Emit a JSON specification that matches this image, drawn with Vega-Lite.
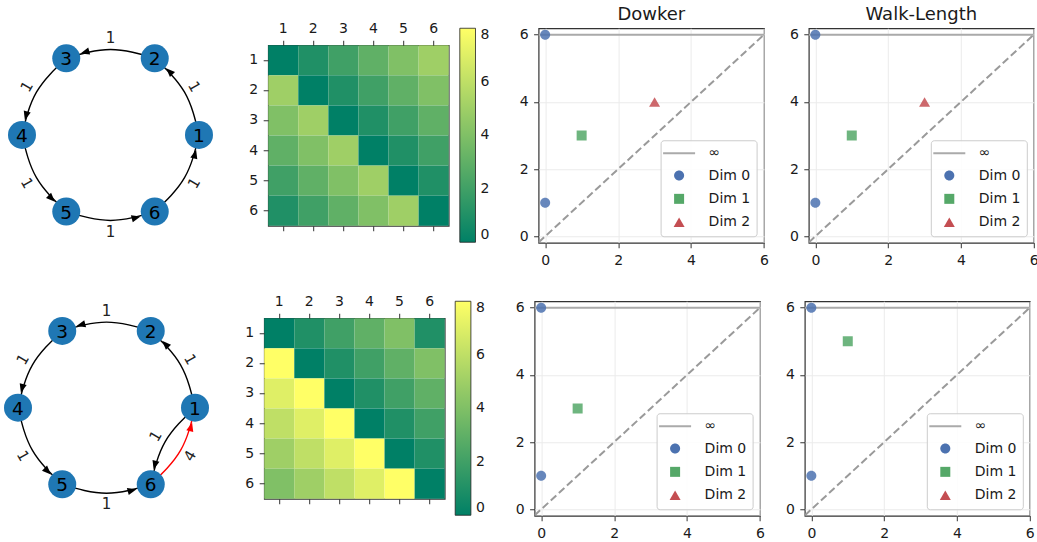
{
"$schema": "https://vega.github.io/schema/vega-lite/v6.json",
"padding": {"left": 0, "top": 4, "right": 0, "bottom": 0},
"background": "white",
"config": {
 "view": {"stroke": "#333333", "strokeWidth": 1.2},
 "font": "DejaVu Sans",
 "axis": {"labelFont": "DejaVu Sans", "labelColor": "#1a1a1a", "tickColor": "#333333", "tickWidth": 1},
 "legend": {"labelFont": "DejaVu Sans"},
 "title": {"font": "DejaVu Sans", "fontSize": 18, "fontWeight": "normal", "color": "#1a1a1a"},
 "text": {"font": "DejaVu Sans"}
},
"datasets": {
 "nodes": [{"id":"1","x":1,"y":0},{"id":"2","x":0.5,"y":0.866},{"id":"3","x":-0.5,"y":0.866},{"id":"4","x":-1,"y":0},{"id":"5","x":-0.5,"y":-0.866},{"id":"6","x":0.5,"y":-0.866}],
 "e1": [
  {"e":"12","k":0,"x":1,"y":0,"kind":"n"},{"e":"12","k":1,"x":0.8366,"y":0.483,"kind":"n"},{"e":"12","k":2,"x":0.5,"y":0.866,"kind":"n"},
  {"e":"23","k":0,"x":0.5,"y":0.866,"kind":"n"},{"e":"23","k":1,"x":0,"y":0.966,"kind":"n"},{"e":"23","k":2,"x":-0.5,"y":0.866,"kind":"n"},
  {"e":"34","k":0,"x":-0.5,"y":0.866,"kind":"n"},{"e":"34","k":1,"x":-0.8366,"y":0.483,"kind":"n"},{"e":"34","k":2,"x":-1,"y":0,"kind":"n"},
  {"e":"45","k":0,"x":-1,"y":0,"kind":"n"},{"e":"45","k":1,"x":-0.8366,"y":-0.483,"kind":"n"},{"e":"45","k":2,"x":-0.5,"y":-0.866,"kind":"n"},
  {"e":"56","k":0,"x":-0.5,"y":-0.866,"kind":"n"},{"e":"56","k":1,"x":0,"y":-0.966,"kind":"n"},{"e":"56","k":2,"x":0.5,"y":-0.866,"kind":"n"},
  {"e":"61","k":0,"x":0.5,"y":-0.866,"kind":"n"},{"e":"61","k":1,"x":0.8366,"y":-0.483,"kind":"n"},{"e":"61","k":2,"x":1,"y":0,"kind":"n"}
 ],
 "e2": [
  {"e":"12","k":0,"x":1,"y":0,"kind":"n"},{"e":"12","k":1,"x":0.8366,"y":0.483,"kind":"n"},{"e":"12","k":2,"x":0.5,"y":0.866,"kind":"n"},
  {"e":"23","k":0,"x":0.5,"y":0.866,"kind":"n"},{"e":"23","k":1,"x":0,"y":0.966,"kind":"n"},{"e":"23","k":2,"x":-0.5,"y":0.866,"kind":"n"},
  {"e":"34","k":0,"x":-0.5,"y":0.866,"kind":"n"},{"e":"34","k":1,"x":-0.8366,"y":0.483,"kind":"n"},{"e":"34","k":2,"x":-1,"y":0,"kind":"n"},
  {"e":"45","k":0,"x":-1,"y":0,"kind":"n"},{"e":"45","k":1,"x":-0.8366,"y":-0.483,"kind":"n"},{"e":"45","k":2,"x":-0.5,"y":-0.866,"kind":"n"},
  {"e":"56","k":0,"x":-0.5,"y":-0.866,"kind":"n"},{"e":"56","k":1,"x":0,"y":-0.966,"kind":"n"},{"e":"56","k":2,"x":0.5,"y":-0.866,"kind":"n"},
  {"e":"61","k":0,"x":0.5,"y":-0.866,"kind":"r"},{"e":"61","k":1,"x":0.8366,"y":-0.483,"kind":"r"},{"e":"61","k":2,"x":1,"y":0,"kind":"r"},
  {"e":"16","k":0,"x":1,"y":0,"kind":"n"},{"e":"16","k":1,"x":0.6634,"y":-0.383,"kind":"n"},{"e":"16","k":2,"x":0.5,"y":-0.866,"kind":"n"}
 ],
 "a1": [
  {"x":0.6281,"y":0.7542,"a":-45.1,"kind":"n"},{"x":-0.3391,"y":0.921,"a":-105.1,"kind":"n"},{"x":-0.9672,"y":0.1668,"a":-165.1,"kind":"n"},
  {"x":-0.6281,"y":-0.7542,"a":134.9,"kind":"n"},{"x":0.3391,"y":-0.921,"a":74.9,"kind":"n"},{"x":0.9672,"y":-0.1668,"a":14.9,"kind":"n"}
 ],
 "a2": [
  {"x":0.6281,"y":0.7542,"a":-45.1,"kind":"n"},{"x":-0.3391,"y":0.921,"a":-105.1,"kind":"n"},{"x":-0.9672,"y":0.1668,"a":-165.1,"kind":"n"},
  {"x":-0.6281,"y":-0.7542,"a":134.9,"kind":"n"},{"x":0.3391,"y":-0.921,"a":74.9,"kind":"n"},{"x":0.9672,"y":-0.1668,"a":14.9,"kind":"r"},
  {"x":0.5328,"y":-0.6992,"a":-165.1,"kind":"n"}
 ],
 "l1": [
  {"x":0.9449,"y":0.5455,"a":60,"t":"1"},{"x":0,"y":1.091,"a":0,"t":"1"},{"x":-0.9449,"y":0.5455,"a":-60,"t":"1"},
  {"x":-0.9449,"y":-0.5455,"a":60,"t":"1"},{"x":0,"y":-1.091,"a":0,"t":"1"},{"x":0.9449,"y":-0.5455,"a":-60,"t":"1"}
 ],
 "l2": [
  {"x":0.9449,"y":0.5455,"a":60,"t":"1"},{"x":0,"y":1.091,"a":0,"t":"1"},{"x":-0.9449,"y":0.5455,"a":-60,"t":"1"},
  {"x":-0.9449,"y":-0.5455,"a":60,"t":"1"},{"x":0,"y":-1.091,"a":0,"t":"1"},{"x":0.9449,"y":-0.5455,"a":-60,"t":"4"},
  {"x":0.5551,"y":-0.3205,"a":-60,"t":"1"}
 ],
 "h1": [
  {"r":1,"c":1,"v":0},{"r":1,"c":2,"v":1},{"r":1,"c":3,"v":2},{"r":1,"c":4,"v":3},{"r":1,"c":5,"v":4},{"r":1,"c":6,"v":5},
  {"r":2,"c":1,"v":5},{"r":2,"c":2,"v":0},{"r":2,"c":3,"v":1},{"r":2,"c":4,"v":2},{"r":2,"c":5,"v":3},{"r":2,"c":6,"v":4},
  {"r":3,"c":1,"v":4},{"r":3,"c":2,"v":5},{"r":3,"c":3,"v":0},{"r":3,"c":4,"v":1},{"r":3,"c":5,"v":2},{"r":3,"c":6,"v":3},
  {"r":4,"c":1,"v":3},{"r":4,"c":2,"v":4},{"r":4,"c":3,"v":5},{"r":4,"c":4,"v":0},{"r":4,"c":5,"v":1},{"r":4,"c":6,"v":2},
  {"r":5,"c":1,"v":2},{"r":5,"c":2,"v":3},{"r":5,"c":3,"v":4},{"r":5,"c":4,"v":5},{"r":5,"c":5,"v":0},{"r":5,"c":6,"v":1},
  {"r":6,"c":1,"v":1},{"r":6,"c":2,"v":2},{"r":6,"c":3,"v":3},{"r":6,"c":4,"v":4},{"r":6,"c":5,"v":5},{"r":6,"c":6,"v":0}
 ],
 "h2": [
  {"r":1,"c":1,"v":0},{"r":1,"c":2,"v":1},{"r":1,"c":3,"v":2},{"r":1,"c":4,"v":3},{"r":1,"c":5,"v":4},{"r":1,"c":6,"v":1},
  {"r":2,"c":1,"v":8},{"r":2,"c":2,"v":0},{"r":2,"c":3,"v":1},{"r":2,"c":4,"v":2},{"r":2,"c":5,"v":3},{"r":2,"c":6,"v":4},
  {"r":3,"c":1,"v":7},{"r":3,"c":2,"v":8},{"r":3,"c":3,"v":0},{"r":3,"c":4,"v":1},{"r":3,"c":5,"v":2},{"r":3,"c":6,"v":3},
  {"r":4,"c":1,"v":6},{"r":4,"c":2,"v":7},{"r":4,"c":3,"v":8},{"r":4,"c":4,"v":0},{"r":4,"c":5,"v":1},{"r":4,"c":6,"v":2},
  {"r":5,"c":1,"v":5},{"r":5,"c":2,"v":6},{"r":5,"c":3,"v":7},{"r":5,"c":4,"v":8},{"r":5,"c":5,"v":0},{"r":5,"c":6,"v":1},
  {"r":6,"c":1,"v":4},{"r":6,"c":2,"v":5},{"r":6,"c":3,"v":6},{"r":6,"c":4,"v":7},{"r":6,"c":5,"v":8},{"r":6,"c":6,"v":0}
 ],
 "diag": [{"x":-0.18,"y":-0.18},{"x":6,"y":6}],
 "inf": [{"y":6}],
 "blank": [{"z":0}],
 "p1": [{"dim":"Dim 0","x":0,"y":1},{"dim":"Dim 0","x":0,"y":6},{"dim":"Dim 1","x":1,"y":3},{"dim":"Dim 2","x":3,"y":4}],
 "p2": [{"dim":"Dim 0","x":0,"y":1},{"dim":"Dim 0","x":0,"y":6},{"dim":"Dim 1","x":1,"y":3},{"dim":"Dim 2","x":3,"y":4}],
 "p3": [{"dim":"Dim 0","x":0,"y":1},{"dim":"Dim 0","x":0,"y":6},{"dim":"Dim 1","x":1,"y":3}],
 "p4": [{"dim":"Dim 0","x":0,"y":1},{"dim":"Dim 0","x":0,"y":6},{"dim":"Dim 1","x":1,"y":5}]
},
"spacing": 24,
"resolve": {"scale": {"color": "independent", "shape": "independent", "x": "independent", "y": "independent"}, "legend": {"color": "independent", "shape": "independent"}},
"vconcat": [
 {
  "spacing": 44.2, "center": true, "bounds": "flush",
  "resolve": {"scale": {"color": "independent", "shape": "independent", "x": "independent", "y": "independent"}, "legend": {"color": "independent", "shape": "independent"}},
  "hconcat": [
   {
    "width": 224, "height": 214.5, "view": {"stroke": null},
    "encoding": {
     "x": {"field": "x", "type": "quantitative", "scale": {"domain": [-1.2486, 1.2825], "nice": false, "zero": false}, "axis": null},
     "y": {"field": "y", "type": "quantitative", "scale": {"domain": [-1.2181, 1.2056], "nice": false, "zero": false}, "axis": null}
    },
    "layer": [
     {"data": {"name": "e1"}, "mark": {"type": "line", "interpolate": "natural", "strokeWidth": 1.4},
      "encoding": {"detail": {"field": "e"}, "order": {"field": "k", "type": "quantitative"}, "color": {"field": "kind", "type": "nominal", "scale": {"domain": ["n", "r"], "range": ["#000000", "#ff0000"]}, "legend": null}}},
     {"data": {"name": "a1"}, "mark": {"type": "point", "filled": true, "opacity": 1, "shape": "M0,0L-0.8,2L0.8,2Z", "size": 81},
      "encoding": {"angle": {"field": "a", "type": "quantitative", "scale": null}, "color": {"field": "kind", "type": "nominal", "scale": {"domain": ["n", "r"], "range": ["#000000", "#ff0000"]}, "legend": null}}},
     {"data": {"name": "nodes"}, "mark": {"type": "circle", "size": 784, "color": "#1f77b4", "opacity": 1}},
     {"data": {"name": "nodes"}, "mark": {"type": "text", "fontSize": 18.5, "color": "#000000", "baseline": "middle", "align": "center", "dy": 1}, "encoding": {"text": {"field": "id"}}},
     {"data": {"name": "l1"}, "mark": {"type": "text", "fontSize": 15, "color": "#222222", "baseline": "middle", "align": "center"}, "encoding": {"text": {"field": "t"}, "angle": {"field": "a", "type": "quantitative", "scale": null}}}
    ]
   },
   {
    "width": 180.5, "height": 180.5, "data": {"name": "h1"},
    "resolve": {"axis": {"x": "independent"}},
    "layer": [
     {"mark": {"type": "rect"},
      "encoding": {
       "x": {"field": "c", "type": "ordinal", "scale": {"paddingInner": 0, "paddingOuter": 0}, "axis": {"orient": "top", "title": null, "labelAngle": 0, "domain": false, "tickSize": 5, "labelPadding": 5, "labelFontSize": 14}},
       "y": {"field": "r", "type": "ordinal", "scale": {"paddingInner": 0, "paddingOuter": 0}, "axis": {"title": null, "domain": false, "tickSize": 5, "labelPadding": 5.5, "labelFontSize": 14}},
       "color": {"field": "v", "type": "quantitative", "scale": {"domain": [0, 8], "range": ["#008066", "#ffff66"], "interpolate": "rgb"},
        "legend": {"title": null, "orient": "none", "legendX": 191.6, "legendY": -17, "direction": "vertical", "gradientLength": 214, "gradientThickness": 15.7, "values": [0, 2, 4, 6, 8], "labelFontSize": 14, "labelOffset": 5, "padding": 0, "gradientStrokeColor": "#222222", "gradientStrokeWidth": 0.8, "labelBaseline": "middle", "labelOverlap": false, "labelColor": "#1a1a1a"}}
      }},
     {"mark": {"type": "rect", "opacity": 0},
      "encoding": {
       "x": {"field": "c", "type": "ordinal", "axis": {"orient": "bottom", "title": null, "labels": false, "domain": false, "tickSize": 5}},
       "y": {"field": "r", "type": "ordinal", "axis": {"title": null, "domain": false, "tickSize": 5, "labelPadding": 5.5, "labelFontSize": 14}}
      }}
    ]
   },
   {"width": 0.6, "height": 214.5, "view": {"stroke": null}, "data": {"name": "blank"}, "mark": {"type": "point", "opacity": 0}},
   {
    "width": 225.4, "height": 214.5,
    "title": {"text": "Dowker", "offset": -9.9, "baseline": "alphabetic"},
    "layer": [
     {"data": {"name": "diag"}, "mark": {"type": "line", "color": "#9a9a9a", "strokeWidth": 2, "strokeDash": [7.5, 3.5], "clip": true},
      "encoding": {
       "x": {"field": "x", "type": "quantitative", "scale": {"domain": [-0.18, 6], "nice": false, "zero": false}, "axis": {"title": null, "values": [0, 2, 4, 6], "grid": true, "gridColor": "#ebebeb", "domain": false, "tickSize": 5, "labelPadding": 6, "labelFlush": false, "labelFontSize": 14}},
       "y": {"field": "y", "type": "quantitative", "scale": {"domain": [-0.19, 6.19], "nice": false, "zero": false}, "axis": {"title": null, "values": [0, 2, 4, 6], "grid": true, "gridColor": "#ebebeb", "domain": false, "tickSize": 5, "labelPadding": 5.5, "labelFlush": false, "labelFontSize": 14}}
      }},
     {"data": {"name": "inf"}, "mark": {"type": "rule", "color": "#aaaaaa", "strokeWidth": 2},
      "encoding": {
       "y": {"field": "y", "type": "quantitative", "scale": {"domain": [-0.19, 6.19], "nice": false, "zero": false}, "axis": {"title": null, "values": [0, 2, 4, 6], "grid": true, "gridColor": "#ebebeb", "domain": false, "tickSize": 5, "labelPadding": 5.5, "labelFlush": false, "labelFontSize": 14}}
      }},
     {"data": {"name": "p1"}, "mark": {"type": "point", "filled": true, "opacity": 0.85, "size": 100},
      "encoding": {
       "x": {"field": "x", "type": "quantitative", "scale": {"domain": [-0.18, 6], "nice": false, "zero": false}, "axis": {"title": null, "values": [0, 2, 4, 6], "grid": true, "gridColor": "#ebebeb", "domain": false, "tickSize": 5, "labelPadding": 6, "labelFlush": false, "labelFontSize": 14}},
       "y": {"field": "y", "type": "quantitative", "scale": {"domain": [-0.19, 6.19], "nice": false, "zero": false}, "axis": {"title": null, "values": [0, 2, 4, 6], "grid": true, "gridColor": "#ebebeb", "domain": false, "tickSize": 5, "labelPadding": 5.5, "labelFlush": false, "labelFontSize": 14}},
       "color": {"field": "dim", "type": "nominal", "scale": {"domain": ["∞", "Dim 0", "Dim 1", "Dim 2"], "range": ["#aaaaaa", "#4c72b0", "#55a868", "#c44e52"]},
        "legend": {"title": null, "orient": "bottom-right", "columns": 1, "offset": 7, "padding": 6, "fillColor": "rgba(255,255,255,0.85)", "strokeColor": "#cccccc", "cornerRadius": 3, "labelFontSize": 14, "labelColor": "#1a1a1a", "labelOffset": 22.5, "symbolOffset": 5.5, "rowPadding": 7.3, "symbolSize": 100, "symbolOpacity": 1}},
       "shape": {"field": "dim", "type": "nominal", "scale": {"domain": ["∞", "Dim 0", "Dim 1", "Dim 2"], "range": ["M-3.2,-0.18H3.2V0.18H-3.2Z", "M-3.2,0M3.2,0M1,0A1,1,0,1,1,-1,0A1,1,0,1,1,1,0Z", "M-3.2,0M3.2,0M-1,-1H1V1H-1Z", "M-3.2,0M3.2,0M0,-0.95L1.1,0.95L-1.1,0.95Z"]},
        "legend": {"title": null, "orient": "bottom-right", "columns": 1, "offset": 7, "padding": 6, "fillColor": "rgba(255,255,255,0.85)", "strokeColor": "#cccccc", "cornerRadius": 3, "labelFontSize": 14, "labelColor": "#1a1a1a", "labelOffset": 22.5, "symbolOffset": 5.5, "rowPadding": 7.3, "symbolSize": 100, "symbolOpacity": 1}}
      }}
    ]
   },
   {
    "width": 225, "height": 214.5,
    "title": {"text": "Walk-Length", "offset": -9.9, "baseline": "alphabetic"},
    "layer": [
     {"data": {"name": "diag"}, "mark": {"type": "line", "color": "#9a9a9a", "strokeWidth": 2, "strokeDash": [7.5, 3.5], "clip": true},
      "encoding": {
       "x": {"field": "x", "type": "quantitative", "scale": {"domain": [-0.18, 6], "nice": false, "zero": false}, "axis": {"title": null, "values": [0, 2, 4, 6], "grid": true, "gridColor": "#ebebeb", "domain": false, "tickSize": 5, "labelPadding": 6, "labelFlush": false, "labelFontSize": 14}},
       "y": {"field": "y", "type": "quantitative", "scale": {"domain": [-0.19, 6.19], "nice": false, "zero": false}, "axis": {"title": null, "values": [0, 2, 4, 6], "grid": true, "gridColor": "#ebebeb", "domain": false, "tickSize": 5, "labelPadding": 5.5, "labelFlush": false, "labelFontSize": 14}}
      }},
     {"data": {"name": "inf"}, "mark": {"type": "rule", "color": "#aaaaaa", "strokeWidth": 2},
      "encoding": {
       "y": {"field": "y", "type": "quantitative", "scale": {"domain": [-0.19, 6.19], "nice": false, "zero": false}, "axis": {"title": null, "values": [0, 2, 4, 6], "grid": true, "gridColor": "#ebebeb", "domain": false, "tickSize": 5, "labelPadding": 5.5, "labelFlush": false, "labelFontSize": 14}}
      }},
     {"data": {"name": "p2"}, "mark": {"type": "point", "filled": true, "opacity": 0.85, "size": 100},
      "encoding": {
       "x": {"field": "x", "type": "quantitative", "scale": {"domain": [-0.18, 6], "nice": false, "zero": false}, "axis": {"title": null, "values": [0, 2, 4, 6], "grid": true, "gridColor": "#ebebeb", "domain": false, "tickSize": 5, "labelPadding": 6, "labelFlush": false, "labelFontSize": 14}},
       "y": {"field": "y", "type": "quantitative", "scale": {"domain": [-0.19, 6.19], "nice": false, "zero": false}, "axis": {"title": null, "values": [0, 2, 4, 6], "grid": true, "gridColor": "#ebebeb", "domain": false, "tickSize": 5, "labelPadding": 5.5, "labelFlush": false, "labelFontSize": 14}},
       "color": {"field": "dim", "type": "nominal", "scale": {"domain": ["∞", "Dim 0", "Dim 1", "Dim 2"], "range": ["#aaaaaa", "#4c72b0", "#55a868", "#c44e52"]},
        "legend": {"title": null, "orient": "bottom-right", "columns": 1, "offset": 7, "padding": 6, "fillColor": "rgba(255,255,255,0.85)", "strokeColor": "#cccccc", "cornerRadius": 3, "labelFontSize": 14, "labelColor": "#1a1a1a", "labelOffset": 22.5, "symbolOffset": 5.5, "rowPadding": 7.3, "symbolSize": 100, "symbolOpacity": 1}},
       "shape": {"field": "dim", "type": "nominal", "scale": {"domain": ["∞", "Dim 0", "Dim 1", "Dim 2"], "range": ["M-3.2,-0.18H3.2V0.18H-3.2Z", "M-3.2,0M3.2,0M1,0A1,1,0,1,1,-1,0A1,1,0,1,1,1,0Z", "M-3.2,0M3.2,0M-1,-1H1V1H-1Z", "M-3.2,0M3.2,0M0,-0.95L1.1,0.95L-1.1,0.95Z"]},
        "legend": {"title": null, "orient": "bottom-right", "columns": 1, "offset": 7, "padding": 6, "fillColor": "rgba(255,255,255,0.85)", "strokeColor": "#cccccc", "cornerRadius": 3, "labelFontSize": 14, "labelColor": "#1a1a1a", "labelOffset": 22.5, "symbolOffset": 5.5, "rowPadding": 7.3, "symbolSize": 100, "symbolOpacity": 1}}
      }}
    ]
   }
  ]
 },
 {
  "spacing": 44.2, "center": true, "bounds": "flush",
  "resolve": {"scale": {"color": "independent", "shape": "independent", "x": "independent", "y": "independent"}, "legend": {"color": "independent", "shape": "independent"}},
  "hconcat": [
   {
    "width": 219.6, "height": 214.5, "view": {"stroke": null},
    "encoding": {
     "x": {"field": "x", "type": "quantitative", "scale": {"domain": [-1.2034, 1.278], "nice": false, "zero": false}, "axis": null},
     "y": {"field": "y", "type": "quantitative", "scale": {"domain": [-1.2203, 1.2011], "nice": false, "zero": false}, "axis": null}
    },
    "layer": [
     {"data": {"name": "e2"}, "mark": {"type": "line", "interpolate": "natural", "strokeWidth": 1.4},
      "encoding": {"detail": {"field": "e"}, "order": {"field": "k", "type": "quantitative"}, "color": {"field": "kind", "type": "nominal", "scale": {"domain": ["n", "r"], "range": ["#000000", "#ff0000"]}, "legend": null}}},
     {"data": {"name": "a2"}, "mark": {"type": "point", "filled": true, "opacity": 1, "shape": "M0,0L-0.8,2L0.8,2Z", "size": 81},
      "encoding": {"angle": {"field": "a", "type": "quantitative", "scale": null}, "color": {"field": "kind", "type": "nominal", "scale": {"domain": ["n", "r"], "range": ["#000000", "#ff0000"]}, "legend": null}}},
     {"data": {"name": "nodes"}, "mark": {"type": "circle", "size": 784, "color": "#1f77b4", "opacity": 1}},
     {"data": {"name": "nodes"}, "mark": {"type": "text", "fontSize": 18.5, "color": "#000000", "baseline": "middle", "align": "center", "dy": 1}, "encoding": {"text": {"field": "id"}}},
     {"data": {"name": "l2"}, "mark": {"type": "text", "fontSize": 15, "color": "#222222", "baseline": "middle", "align": "center"}, "encoding": {"text": {"field": "t"}, "angle": {"field": "a", "type": "quantitative", "scale": null}}}
    ]
   },
   {
    "width": 180.5, "height": 180.5, "data": {"name": "h2"},
    "resolve": {"axis": {"x": "independent"}},
    "layer": [
     {"mark": {"type": "rect"},
      "encoding": {
       "x": {"field": "c", "type": "ordinal", "scale": {"paddingInner": 0, "paddingOuter": 0}, "axis": {"orient": "top", "title": null, "labelAngle": 0, "domain": false, "tickSize": 5, "labelPadding": 5, "labelFontSize": 14}},
       "y": {"field": "r", "type": "ordinal", "scale": {"paddingInner": 0, "paddingOuter": 0}, "axis": {"title": null, "domain": false, "tickSize": 5, "labelPadding": 5.5, "labelFontSize": 14}},
       "color": {"field": "v", "type": "quantitative", "scale": {"domain": [0, 8], "range": ["#008066", "#ffff66"], "interpolate": "rgb"},
        "legend": {"title": null, "orient": "none", "legendX": 191, "legendY": -17, "direction": "vertical", "gradientLength": 214, "gradientThickness": 15.7, "values": [0, 2, 4, 6, 8], "labelFontSize": 14, "labelOffset": 5, "padding": 0, "gradientStrokeColor": "#222222", "gradientStrokeWidth": 0.8, "labelBaseline": "middle", "labelOverlap": false, "labelColor": "#1a1a1a"}}
      }},
     {"mark": {"type": "rect", "opacity": 0},
      "encoding": {
       "x": {"field": "c", "type": "ordinal", "axis": {"orient": "bottom", "title": null, "labels": false, "domain": false, "tickSize": 5}},
       "y": {"field": "r", "type": "ordinal", "axis": {"title": null, "domain": false, "tickSize": 5, "labelPadding": 5.5, "labelFontSize": 14}}
      }}
    ]
   },
   {"width": 0.6, "height": 214.5, "view": {"stroke": null}, "data": {"name": "blank"}, "mark": {"type": "point", "opacity": 0}},
   {
    "width": 225.4, "height": 214.5,
    "layer": [
     {"data": {"name": "diag"}, "mark": {"type": "line", "color": "#9a9a9a", "strokeWidth": 2, "strokeDash": [7.5, 3.5], "clip": true},
      "encoding": {
       "x": {"field": "x", "type": "quantitative", "scale": {"domain": [-0.18, 6], "nice": false, "zero": false}, "axis": {"title": null, "values": [0, 2, 4, 6], "grid": true, "gridColor": "#ebebeb", "domain": false, "tickSize": 5, "labelPadding": 6, "labelFlush": false, "labelFontSize": 14}},
       "y": {"field": "y", "type": "quantitative", "scale": {"domain": [-0.19, 6.19], "nice": false, "zero": false}, "axis": {"title": null, "values": [0, 2, 4, 6], "grid": true, "gridColor": "#ebebeb", "domain": false, "tickSize": 5, "labelPadding": 5.5, "labelFlush": false, "labelFontSize": 14}}
      }},
     {"data": {"name": "inf"}, "mark": {"type": "rule", "color": "#aaaaaa", "strokeWidth": 2},
      "encoding": {
       "y": {"field": "y", "type": "quantitative", "scale": {"domain": [-0.19, 6.19], "nice": false, "zero": false}, "axis": {"title": null, "values": [0, 2, 4, 6], "grid": true, "gridColor": "#ebebeb", "domain": false, "tickSize": 5, "labelPadding": 5.5, "labelFlush": false, "labelFontSize": 14}}
      }},
     {"data": {"name": "p3"}, "mark": {"type": "point", "filled": true, "opacity": 0.85, "size": 100},
      "encoding": {
       "x": {"field": "x", "type": "quantitative", "scale": {"domain": [-0.18, 6], "nice": false, "zero": false}, "axis": {"title": null, "values": [0, 2, 4, 6], "grid": true, "gridColor": "#ebebeb", "domain": false, "tickSize": 5, "labelPadding": 6, "labelFlush": false, "labelFontSize": 14}},
       "y": {"field": "y", "type": "quantitative", "scale": {"domain": [-0.19, 6.19], "nice": false, "zero": false}, "axis": {"title": null, "values": [0, 2, 4, 6], "grid": true, "gridColor": "#ebebeb", "domain": false, "tickSize": 5, "labelPadding": 5.5, "labelFlush": false, "labelFontSize": 14}},
       "color": {"field": "dim", "type": "nominal", "scale": {"domain": ["∞", "Dim 0", "Dim 1", "Dim 2"], "range": ["#aaaaaa", "#4c72b0", "#55a868", "#c44e52"]},
        "legend": {"title": null, "orient": "bottom-right", "columns": 1, "offset": 7, "padding": 6, "fillColor": "rgba(255,255,255,0.85)", "strokeColor": "#cccccc", "cornerRadius": 3, "labelFontSize": 14, "labelColor": "#1a1a1a", "labelOffset": 22.5, "symbolOffset": 5.5, "rowPadding": 7.3, "symbolSize": 100, "symbolOpacity": 1}},
       "shape": {"field": "dim", "type": "nominal", "scale": {"domain": ["∞", "Dim 0", "Dim 1", "Dim 2"], "range": ["M-3.2,-0.18H3.2V0.18H-3.2Z", "M-3.2,0M3.2,0M1,0A1,1,0,1,1,-1,0A1,1,0,1,1,1,0Z", "M-3.2,0M3.2,0M-1,-1H1V1H-1Z", "M-3.2,0M3.2,0M0,-0.95L1.1,0.95L-1.1,0.95Z"]},
        "legend": {"title": null, "orient": "bottom-right", "columns": 1, "offset": 7, "padding": 6, "fillColor": "rgba(255,255,255,0.85)", "strokeColor": "#cccccc", "cornerRadius": 3, "labelFontSize": 14, "labelColor": "#1a1a1a", "labelOffset": 22.5, "symbolOffset": 5.5, "rowPadding": 7.3, "symbolSize": 100, "symbolOpacity": 1}}
      }}
    ]
   },
   {
    "width": 225, "height": 214.5,
    "layer": [
     {"data": {"name": "diag"}, "mark": {"type": "line", "color": "#9a9a9a", "strokeWidth": 2, "strokeDash": [7.5, 3.5], "clip": true},
      "encoding": {
       "x": {"field": "x", "type": "quantitative", "scale": {"domain": [-0.18, 6], "nice": false, "zero": false}, "axis": {"title": null, "values": [0, 2, 4, 6], "grid": true, "gridColor": "#ebebeb", "domain": false, "tickSize": 5, "labelPadding": 6, "labelFlush": false, "labelFontSize": 14}},
       "y": {"field": "y", "type": "quantitative", "scale": {"domain": [-0.19, 6.19], "nice": false, "zero": false}, "axis": {"title": null, "values": [0, 2, 4, 6], "grid": true, "gridColor": "#ebebeb", "domain": false, "tickSize": 5, "labelPadding": 5.5, "labelFlush": false, "labelFontSize": 14}}
      }},
     {"data": {"name": "inf"}, "mark": {"type": "rule", "color": "#aaaaaa", "strokeWidth": 2},
      "encoding": {
       "y": {"field": "y", "type": "quantitative", "scale": {"domain": [-0.19, 6.19], "nice": false, "zero": false}, "axis": {"title": null, "values": [0, 2, 4, 6], "grid": true, "gridColor": "#ebebeb", "domain": false, "tickSize": 5, "labelPadding": 5.5, "labelFlush": false, "labelFontSize": 14}}
      }},
     {"data": {"name": "p4"}, "mark": {"type": "point", "filled": true, "opacity": 0.85, "size": 100},
      "encoding": {
       "x": {"field": "x", "type": "quantitative", "scale": {"domain": [-0.18, 6], "nice": false, "zero": false}, "axis": {"title": null, "values": [0, 2, 4, 6], "grid": true, "gridColor": "#ebebeb", "domain": false, "tickSize": 5, "labelPadding": 6, "labelFlush": false, "labelFontSize": 14}},
       "y": {"field": "y", "type": "quantitative", "scale": {"domain": [-0.19, 6.19], "nice": false, "zero": false}, "axis": {"title": null, "values": [0, 2, 4, 6], "grid": true, "gridColor": "#ebebeb", "domain": false, "tickSize": 5, "labelPadding": 5.5, "labelFlush": false, "labelFontSize": 14}},
       "color": {"field": "dim", "type": "nominal", "scale": {"domain": ["∞", "Dim 0", "Dim 1", "Dim 2"], "range": ["#aaaaaa", "#4c72b0", "#55a868", "#c44e52"]},
        "legend": {"title": null, "orient": "bottom-right", "columns": 1, "offset": 7, "padding": 6, "fillColor": "rgba(255,255,255,0.85)", "strokeColor": "#cccccc", "cornerRadius": 3, "labelFontSize": 14, "labelColor": "#1a1a1a", "labelOffset": 22.5, "symbolOffset": 5.5, "rowPadding": 7.3, "symbolSize": 100, "symbolOpacity": 1}},
       "shape": {"field": "dim", "type": "nominal", "scale": {"domain": ["∞", "Dim 0", "Dim 1", "Dim 2"], "range": ["M-3.2,-0.18H3.2V0.18H-3.2Z", "M-3.2,0M3.2,0M1,0A1,1,0,1,1,-1,0A1,1,0,1,1,1,0Z", "M-3.2,0M3.2,0M-1,-1H1V1H-1Z", "M-3.2,0M3.2,0M0,-0.95L1.1,0.95L-1.1,0.95Z"]},
        "legend": {"title": null, "orient": "bottom-right", "columns": 1, "offset": 7, "padding": 6, "fillColor": "rgba(255,255,255,0.85)", "strokeColor": "#cccccc", "cornerRadius": 3, "labelFontSize": 14, "labelColor": "#1a1a1a", "labelOffset": 22.5, "symbolOffset": 5.5, "rowPadding": 7.3, "symbolSize": 100, "symbolOpacity": 1}}
      }}
    ]
   }
  ]
 }
]
}
